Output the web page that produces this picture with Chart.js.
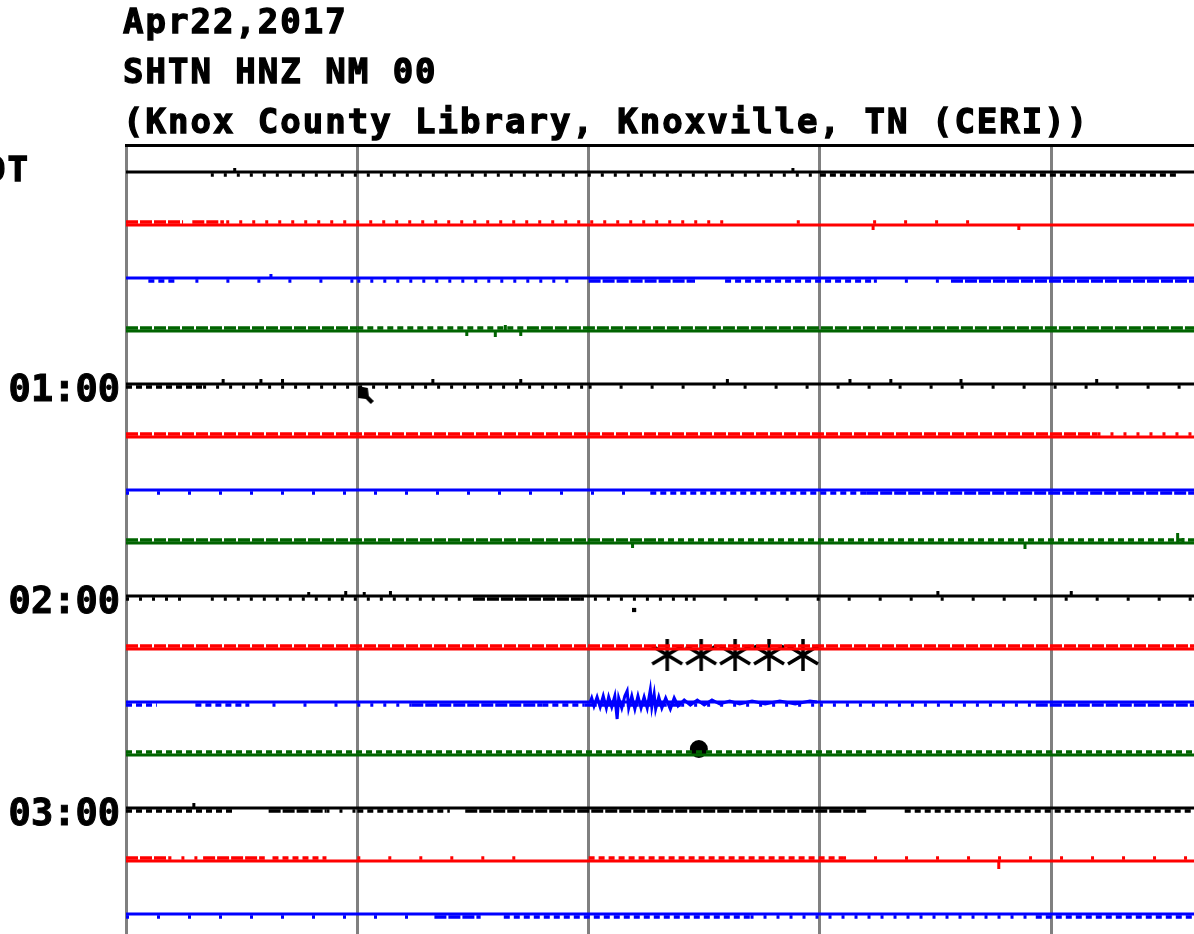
<!DOCTYPE html>
<html>
<head>
<meta charset="utf-8">
<script src="https://cdn.jsdelivr.net/npm/chart.js@4.4.0/dist/chart.umd.min.js"></script>
<style>
html, body { margin: 0; padding: 0; background: #fff; overflow: hidden; }
canvas { display: block; }
</style>
</head>
<body>
<canvas id="chart" width="1194" height="934"></canvas>
<script>
// header text
let titleLines = ["Apr22,2017", "SHTN HNZ NM 00", "(Knox County Library, Knoxville, TN (CERI))"];
let zoneLabel = "EDT";
let labelRows = [4, 8, 12];
let labelTexts = ["01:00", "02:00", "03:00"];

// one row = 15 minutes, colours cycle black / red / blue / green
let traceColors = ["#000000", "#ff0000", "#0000ff", "#006400"];
let rowCount = 15;
let gridMinutes = [0, 3, 6, 9, 12];

// noisy stretches per row: [from min, to min, level 1..4]
let busy = [
    [[1.1, 9.0, 2], [9.0, 13.64, 3]],
    [[0, 0.74, 4], [0.86, 1.27, 4], [1.3, 7.75, 2], [8.7, 8.82, 2], [9.69, 11.2, 1]],
    [[0.29, 0.67, 3], [0.9, 2.95, 1], [3.0, 5.82, 2], [6.0, 7.38, 4], [7.77, 9.7, 3], [9.7, 10.7, 1], [10.7, 13.9, 4]],
    [[0, 3.0, 4], [3.0, 5.2, 3], [5.2, 13.9, 4]],
    [[0, 1.0, 3], [1.0, 6.0, 2], [6.0, 13.7, 1]],
    [[0, 12.6, 4], [12.6, 13.9, 2]],
    [[0, 6.8, 1], [6.8, 9.6, 3], [9.6, 13.9, 4]],
    [[0, 6.9, 4], [6.9, 13.9, 3]],
    [[0, 0.83, 2], [1.1, 4.4, 2], [4.5, 5.9, 4], [5.9, 7.35, 2], [7.35, 13.9, 1]],
    [[0, 13.9, 4]],
    [[0, 0.4, 3], [0.9, 1.6, 3], [1.9, 3.0, 1], [3.0, 3.7, 2], [3.7, 5.4, 4], [5.4, 5.95, 3], [5.95, 7.2, 4], [7.2, 9.0, 2], [9.0, 11.8, 2], [11.8, 13.9, 4]],
    [[0, 13.9, 3]],
    [[0, 1.4, 3], [1.85, 2.6, 4], [2.6, 3.0, 2], [3.0, 4.2, 3], [4.4, 9.6, 4], [10.1, 13.9, 3]],
    [[0, 0.55, 4], [0.55, 1.0, 2], [1.0, 1.8, 4], [1.9, 2.6, 3], [3.0, 5.2, 1], [6.0, 9.3, 3], [9.3, 13.9, 1]],
    [[0, 4.0, 1], [4.0, 4.6, 4], [4.9, 8.1, 3], [8.1, 11.8, 2], [11.8, 13.9, 3]]
];

// single spikes: [row, minute, amplitude] (+ = up)
let spikes = [
    [0, 1.41, 4], [0, 8.65, 4],
    [1, 9.69, -5], [1, 11.58, -5],
    [2, 1.88, 4],
    [3, 4.42, -5], [3, 4.79, -6], [3, 4.92, 6], [3, 5.12, -5],
    [4, 1.26, 5], [4, 1.75, 5], [4, 2.03, 5], [4, 3.98, 5], [4, 5.12, 5], [4, 7.8, 5], [4, 9.39, 5], [4, 9.92, 5], [4, 10.83, 5], [4, 12.59, 5],
    [7, 6.57, -5], [7, 11.66, -6], [7, 13.64, 10], [7, 13.71, 5],
    [8, 2.37, 4], [8, 2.85, 5], [8, 3.09, 4], [8, 3.43, 5], [8, 10.53, 5], [8, 12.26, 5],
    [12, 0.88, 5],
    [13, 11.32, -8]
];

// the quake on the 02:30 row
let eventRow = 10;
let eventMin = [6.02, 6.04, 6.07, 6.11, 6.15, 6.19, 6.23, 6.26, 6.30, 6.34, 6.37, 6.39, 6.43, 6.47, 6.50, 6.52,
    6.56, 6.60, 6.64, 6.68, 6.72, 6.76, 6.80, 6.82, 6.85, 6.87, 6.91, 6.95, 7.00, 7.06, 7.11, 7.16,
    7.24, 7.32, 7.41, 7.50, 7.60, 7.70, 7.83, 7.96, 8.12, 8.29, 8.48, 8.68, 8.87, 8.96];
let eventAmp = [0, 4, -4, 5, -5, 6, -6, 5, -5, 6, -17, 4, -6, 6, 11, -6,
    6, -7, 6, -6, 5, -6, 12, -5, 8, -7, 5, -6, 4, -7, 4, -4,
    2, -3, 2, -3, 2, -2, 1, -2, 1, -2, 1, -2, 1, 0];

// pick marks
let markerRows = [4, 8, 11];
let markerMin = [3.11, 6.59, 7.43];
let markerAmp = [-11, -14, 6];
let asteriskRow = 9;
let asteriskMin = [7.02, 7.46, 7.90, 8.34, 8.78];
let asteriskAmp = -6;

const ROW = 53;        // px between rows
const TICK = 3;        // offset of the noise ticks
const XMAX = 13.852;   // visible minutes
const dashes = { 1: [3, 28], 2: [3, 10], 3: [6, 4], 4: [12, 2] };

function rowY(r, amp) { return r * ROW - (amp || 0); }

// asterisk point style
let star = document.createElement("canvas");
star.width = 34; star.height = 36;
let sc = star.getContext("2d");
sc.strokeStyle = "#000"; sc.lineWidth = 3.5;
sc.beginPath();
sc.moveTo(17, 2); sc.lineTo(17, 34);
sc.moveTo(2, 9); sc.lineTo(32, 27);
sc.moveTo(2, 27); sc.lineTo(32, 9);
sc.stroke();

// pointer mark on the 01:00 row
let pointer = document.createElement("canvas");
pointer.width = 16; pointer.height = 18;
let pc = pointer.getContext("2d");
pc.fillStyle = "#000";
pc.beginPath();
pc.moveTo(0, 0); pc.lineTo(10, 2); pc.lineTo(11, 10); pc.lineTo(16, 15);
pc.lineTo(13, 18); pc.lineTo(8, 13); pc.lineTo(0, 12);
pc.closePath();
pc.fill();

let datasets = [];
for (let r = 0; r < rowCount; r++) {
    let color = traceColors[r % 4];
    let dir = r % 2 === 0 ? 1 : -1;
    let pts = [{ x: 0, y: rowY(r) }];
    spikes.filter(s => s[0] === r).sort((a, b) => a[1] - b[1]).forEach(s => {
        pts.push({ x: s[1], y: rowY(r) }, { x: s[1], y: rowY(r, s[2]) }, { x: s[1], y: rowY(r) });
    });
    pts.push({ x: XMAX + 0.1, y: rowY(r) });
    datasets.push({ data: pts, borderColor: color, borderWidth: 3, pointRadius: 0, borderJoinStyle: "bevel" });

    for (let lvl = 1; lvl <= 4; lvl++) {
        let segs = busy[r].filter(b => b[2] === lvl);
        if (!segs.length) continue;
        let d = [];
        segs.forEach(b => {
            d.push({ x: b[0], y: rowY(r) + dir * TICK }, { x: b[1], y: rowY(r) + dir * TICK }, { x: b[1], y: null });
        });
        datasets.push({ data: d, borderColor: color, borderWidth: 3.5, borderDash: dashes[lvl], pointRadius: 0, spanGaps: false });
    }
}

datasets.push({
    data: eventMin.map((m, i) => ({ x: m, y: rowY(eventRow, eventAmp[i]) })),
    borderColor: traceColors[eventRow % 4], borderWidth: 3, pointRadius: 0
});

datasets.push({
    data: markerRows.map((r, i) => ({ x: markerMin[i], y: rowY(r, markerAmp[i]) })),
    showLine: false,
    pointStyle: [pointer, "rect", "circle"],
    pointRadius: [8, 3, 9],
    pointBackgroundColor: "#000", pointBorderColor: "#000", pointBorderWidth: 0
});

datasets.push({
    data: asteriskMin.map(m => ({ x: m, y: rowY(asteriskRow, asteriskAmp) })),
    showLine: false, pointStyle: star, pointRadius: 17
});

const textPlugin = {
    id: "helitext",
    afterDraw(chart) {
        const ctx = chart.ctx;
        const ys = chart.scales.y;
        ctx.save();
        ctx.fillStyle = "#000";
        ctx.strokeStyle = "#000";
        ctx.lineWidth = 1.3;
        ctx.textBaseline = "alphabetic";
        ctx.font = 'bold 34px "DejaVu Sans Mono"';
        ctx.letterSpacing = "2px";
        ctx.textAlign = "left";
        titleLines.forEach((t, i) => { ctx.fillText(t, 123, 33 + i * 50); ctx.strokeText(t, 123, 33 + i * 50); });
        ctx.textAlign = "right";
        let zy = ys.getPixelForValue(rowY(0)) + 9;
        ctx.fillText(zoneLabel, 30, zy);
        ctx.strokeText(zoneLabel, 30, zy);
        ctx.font = 'bold 37px "DejaVu Sans Mono"';
        ctx.letterSpacing = "0px";
        ctx.lineWidth = 1;
        labelTexts.forEach((t, i) => {
            let y = ys.getPixelForValue(rowY(labelRows[i])) + 17;
            ctx.fillText(t, 120, y);
            ctx.strokeText(t, 120, y);
        });
        ctx.restore();
    }
};

new Chart(document.getElementById("chart"), {
    type: "line",
    data: { datasets: datasets },
    plugins: [textPlugin],
    options: {
        responsive: false,
        devicePixelRatio: 1,
        animation: false,
        layout: { autoPadding: false, padding: { left: 126, top: 145, right: 0, bottom: 0 } },
        plugins: { legend: { display: false }, tooltip: { enabled: false } },
        scales: {
            x: {
                type: "linear", position: "top", min: 0, max: XMAX, z: 1,
                afterBuildTicks: axis => { axis.ticks = gridMinutes.map(v => ({ value: v })); },
                ticks: { display: false },
                grid: { color: "#808080", lineWidth: 3, drawTicks: false },
                border: { display: true, color: "#000", width: 3 }
            },
            y: { type: "linear", display: false, reverse: true, min: -27, max: 762 }
        }
    }
});
</script>
</body>
</html>
